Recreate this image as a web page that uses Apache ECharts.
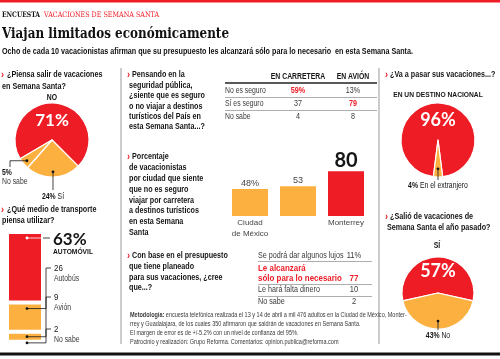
<!DOCTYPE html>
<html><head><meta charset="utf-8">
<script src="https://cdn.jsdelivr.net/npm/echarts@6/dist/echarts.min.js"></script>
<style>html,body{margin:0;padding:0;background:#fff}#c{width:500px;height:359px}</style>
</head><body><div id="c"></div>
<script>
// ---------------- DATA ----------------
const vacLabels = ['NO', 'Sí', 'No sabe'];
const vacValues = [71, 24, 5];
const transportLabels = ['AUTOMÓVIL', 'Autobús', 'Avión', 'No sabe'];
const transportValues = [63, 26, 9, 2];
const safetyCols = ['EN CARRETERA', 'EN AVIÓN'];
const safetyRows = ['No es seguro', 'Sí es seguro', 'No sabe'];
const safetyCarretera = [59, 37, 4];
const safetyAvion = [13, 79, 8];
const cityLabels = ['Ciudad\nde México', 'Guadalajara', 'Monterrey'];
const cityValues = [48, 53, 80];
const budgetLabels = ['Se podrá dar algunos lujos', 'Le alcanzará\nsólo para lo necesario', 'Le hará falta dinero', 'No sabe'];
const budgetValues = [11, 77, 10, 2];
const destLabels = ['EN UN DESTINO NACIONAL', 'En el extranjero'];
const destValues = [96, 4];
const lastLabels = ['SÍ', 'No'];
const lastValues = [57, 43];

// ---------------- STYLE ----------------
const RED = '#ee1c25', ORANGE = '#fbb040', INK = '#151515', GRAY = '#3a3a3a';
const NARROW = '"Liberation Sans",Arial,sans-serif';
const GEO = 'Lato,"Open Sans",sans-serif';
const SLAB = '"DejaVu Serif",serif';
const f = (w, s, fam) => `${w} ${s}px ${fam}`;
const QF = f('bold', 8.6, NARROW);

const mctx = document.createElement('canvas').getContext('2d');
function measure(text, font) { mctx.font = font; return mctx.measureText(text).width; }
const SUB = 'Ocho de cada 10 vacacionistas afirman que su presupuesto les alcanzará sólo para lo necesario  en esta Semana Santa.';
const SUBF = f('bold', 8.6, NARROW);
const SQ = Math.min(1, 411 / measure(SUB, SUBF));

const chart = echarts.init(document.getElementById('c'));

const P1 = {c: [52, 140], r: 37, start: -45 + vacValues[0] * 3.6};
const P3 = {c: [438, 140], r: 37, start: 90 + destValues[0] * 1.8};
const P4 = {c: [438, 293], r: 36, start: 90 + lastValues[0] * 1.8};

function pie(P, values, colors) {
  return {type: 'pie', center: P.c, radius: P.r, startAngle: P.start, clockwise: true, z: 2,
    silent: true, animation: false, label: {show: false}, labelLine: {show: false},
    itemStyle: {borderColor: '#fff', borderWidth: 1.2},
    data: values.map((v, i) => ({value: v, itemStyle: {color: colors[i]}}))};
}
function midPoint(P, values, i, k) {
  const tot = values.reduce((a, b) => a + b, 0);
  let cum = 0; for (let j = 0; j < i; j++) cum += values[j];
  const a = (P.start - 360 * (cum + values[i] / 2) / tot) * Math.PI / 180;
  return [P.c[0] + P.r * k * Math.cos(a), P.c[1] - P.r * k * Math.sin(a)];
}

const transportColors = [RED, ORANGE, ORANGE, ORANGE];
const option = {
  animation: false,
  grid: [
    {left: 7, top: 232, width: 36, height: 112},
    {left: 226, top: 160, width: 144, height: 56}
  ],
  xAxis: [
    {gridIndex: 0, type: 'category', data: [''], show: false},
    {gridIndex: 1, type: 'category', data: cityLabels, axisLine: {show: false}, axisTick: {show: false},
      axisLabel: {color: '#444', fontSize: 8, fontFamily: NARROW, lineHeight: 11, margin: 1}}
  ],
  yAxis: [
    {gridIndex: 0, type: 'value', min: 0, max: 100, inverse: true, show: false},
    {gridIndex: 1, type: 'value', min: 0, max: 100, show: false}
  ],
  series: [
    ...transportValues.map((v, i) => ({type: 'bar', xAxisIndex: 0, yAxisIndex: 0, stack: 'tr',
      barWidth: '100%', silent: true, data: [v],
      itemStyle: {color: transportColors[i], borderColor: '#fff', borderWidth: 2}})),
    {type: 'bar', xAxisIndex: 1, yAxisIndex: 1, barWidth: 36, silent: true,
      data: cityValues.map((v, i) => ({value: v, itemStyle: {color: i === 2 ? RED : ORANGE}})),
      label: {show: true, position: 'top', distance: 1, color: '#444', fontSize: 9, fontFamily: NARROW,
        formatter: p => p.dataIndex === 0 ? p.value + '%' : (p.dataIndex === 2 ? '{big|' + p.value + '}' : '' + p.value),
        rich: {big: {fontSize: 20, fontFamily: GEO, fontWeight: 'bold', color: INK}}}},
    pie(P1, vacValues, [RED, ORANGE, ORANGE]),
    pie(P3, destValues, [RED, ORANGE]),
    pie(P4, lastValues, [RED, ORANGE])
  ]
};
chart.setOption(option);

// ---------------- ANNOTATIONS ----------------
const G = [];
function T(x, y, text, font, fill, align, opts) {
  opts = opts || {};
  const st = {text: text, font: font, fill: fill || INK, align: align || 'left', verticalAlign: 'middle',
    textAlign: align || 'left', textVerticalAlign: 'middle'};
  if (opts.rich) st.rich = opts.rich;
  let sx = opts.sx != null ? opts.sx : (font.indexOf('Liberation') >= 0 ? SQ : 1);
  if (opts.w) sx = opts.w / measure(text, font);
  G.push({type: 'text', x: x, y: y, scaleX: sx, z: 50, silent: true, style: st});
}
function L(pts, stroke, w) {
  G.push({type: 'polyline', z: 40, silent: true, shape: {points: pts}, style: {stroke: stroke || INK, lineWidth: w || 0.8, fill: null}});
}
function dot(p, fill) { G.push({type: 'circle', z: 45, silent: true, shape: {cx: p[0], cy: p[1], r: 1.4}, style: {fill: fill || INK}}); }
const boldRich = {b: {fontWeight: 'bold', fontFamily: NARROW, fontSize: 8.2}};

G.push({type: 'rect', z: 40, silent: true, shape: {x: 0, y: 0, width: 500, height: 2.5}, style: {fill: RED}});
G.push({type: 'rect', z: 40, silent: true, shape: {x: 0, y: 352.5, width: 500, height: 3}, style: {fill: '#111'}});
L([[121, 68], [121, 344]], '#9a9a9a', 1);
L([[379, 68], [379, 344]], '#9a9a9a', 1);

// header
T(2, 15, 'ENCUESTA', f('bold', 7.5, SLAB), '#111', 'left', {w: 38});
T(44, 15, 'VACACIONES DE SEMANA SANTA', f('normal', 7.5, SLAB), RED, 'left', {w: 115});
T(2, 34, 'Viajan limitados económicamente', f('bold', 15.5, SLAB), '#111', 'left', {w: 227});
T(2, 52, SUB, SUBF, '#111', 'left', {w: 411});

// Q1
T(1, 75, '›', f('bold', 11, NARROW), RED);
T(7, 75, '¿Piensa salir de vacaciones', QF);
T(2, 87, 'en Semana Santa?', QF);
T(52, 98, vacLabels[0], f('bold', 8.2, NARROW), INK, 'center');
T(52, 121, vacValues[0] + '%', f('bold', 17, GEO), '#fff', 'center');
const d5 = midPoint(P1, vacValues, 2, 0.88);
L([[10, 167], [10, d5[1]], d5]); dot(d5);
T(2, 173, vacValues[2] + '%', f('bold', 8.2, NARROW));
T(2, 182, vacLabels[2], f('normal', 8.2, NARROW), GRAY);
const d24 = midPoint(P1, vacValues, 1, 0.86);
L([d24, [d24[0], 190]]); dot(d24);
T(d24[0], 197, '{b|' + vacValues[1] + '%} ' + vacLabels[1], f('normal', 8.2, NARROW), INK, 'center', {rich: boldRich});

// Q2 transport
T(1, 210, '›', f('bold', 11, NARROW), RED);
T(7, 210, '¿Qué medio de transporte', QF);
T(2, 221, 'piensa utilizar?', QF);
const labelYs = [240, 268, 297, 329];
let cum = 0;
transportValues.forEach((v, i) => {
  const top = chart.convertToPixel({gridIndex: 0}, [0, cum]);
  const bot = chart.convertToPixel({gridIndex: 0}, [0, cum + v]);
  const cx = top[0] + 2, right = top[0] + 18;
  const dy = top[1] + Math.min(6, (bot[1] - top[1]) / 2);
  if (i === 0) {
    L([[cx, dy], [right, dy]], '#fff', 0.8);
    L([[right, dy], [right + 7, dy]]);
    dot([cx, dy], '#fff');
    T(53, labelYs[0], v + '%', f('bold', 17, GEO), INK, 'left', {sx: 1});
    T(53, 252, transportLabels[0], f('bold', 8, NARROW), INK);
  } else {
    L([[cx, dy], [right + 3, dy], [right + 3, labelYs[i]], [right + 8, labelYs[i]]]);
    dot([cx, dy]);
    T(54, labelYs[i], '' + v, f('normal', 9.5, NARROW), INK);
    T(54, labelYs[i] + 11, transportLabels[i], f('normal', 8.2, NARROW), GRAY);
  }
  cum += v;
});

// Middle Q3
const q3 = ['Pensando en la', 'seguridad pública,', '¿siente que es seguro', 'o no viajar a destinos', 'turísticos del País en', 'esta Semana Santa...?'];
T(127, 75, '›', f('bold', 11, NARROW), RED);
q3.forEach((s, i) => T(i === 0 ? 132 : 129, 75 + i * 10.4, s, QF));
// table 1
T(298, 77, safetyCols[0], f('bold', 8.2, NARROW), INK, 'center');
T(353, 77, safetyCols[1], f('bold', 8.2, NARROW), INK, 'center');
L([[225, 83], [377, 83]], '#222', 1.4);
const rowY1 = [91, 104, 117];
safetyRows.forEach((r, i) => {
  T(225, rowY1[i], r, f('normal', 8.2, NARROW), GRAY);
  const hiC = safetyCarretera[i] === Math.max(...safetyCarretera);
  const hiA = safetyAvion[i] === Math.max(...safetyAvion);
  T(298, rowY1[i], safetyCarretera[i] + (i === 0 ? '%' : ''), f(hiC ? 'bold' : 'normal', 8.6, NARROW), hiC ? RED : GRAY, 'center');
  T(353, rowY1[i], safetyAvion[i] + (i === 0 ? '%' : ''), f(hiA ? 'bold' : 'normal', 8.6, NARROW), hiA ? RED : GRAY, 'center');
});
L([[225, 97.5], [377, 97.5]], '#999', 0.8);
L([[225, 110.5], [377, 110.5]], '#999', 0.8);

// Q4
const q4 = ['Porcentaje', 'de vacacionistas', 'por ciudad que siente', 'que no es seguro', 'viajar por carretera', 'a destinos turísticos', 'en esta Semana', 'Santa'];
T(127, 157, '›', f('bold', 11, NARROW), RED);
q4.forEach((s, i) => T(i === 0 ? 132 : 129, 157 + i * 10.8, s, QF));

// Q5
const q5 = ['Con base en el presupuesto', 'que tiene planeado', 'para sus vacaciones, ¿cree', 'que...?'];
T(127, 256, '›', f('bold', 11, NARROW), RED);
q5.forEach((s, i) => T(i === 0 ? 132 : 129, 256 + i * 10.6, s, QF));
// table 2
const rowY2 = [256, 278, 290, 302];
budgetLabels.forEach((r, i) => {
  const hi = budgetValues[i] === Math.max(...budgetValues);
  const parts = r.split('\n');
  parts.forEach((p, k) => T(258, rowY2[i] - (parts.length - 1 - k) * 10, p, f(hi ? 'bold' : 'normal', hi ? 9.5 : 8.6, NARROW), hi ? RED : GRAY));
  T(354, rowY2[i], budgetValues[i] + (i === 0 ? '%' : ''), f(hi ? 'bold' : 'normal', hi ? 9.5 : 9, NARROW), hi ? RED : GRAY, 'center');
});
[261, 284, 296].forEach(y => L([[258, y + 0.5], [372, y + 0.5]], '#999', 0.8));

// methodology
const MF = f('normal', 6.6, NARROW);
T(130, 315, '{b|Metodología:} encuesta telefónica realizada el 13 y 14 de abril a mil 476 adultos en la Ciudad de México, Monter-', MF, GRAY, 'left', {rich: {b: {fontWeight: 'bold', fontFamily: NARROW, fontSize: 6.6}}});
T(130, 324, 'rrey y Guadalajara, de los cuales 350 afirmaron que saldrán de vacaciones en Semana Santa.', MF, GRAY);
T(130, 333, 'El margen de error es de +/-5.2% con un nivel de confianza del 95%.', MF, GRAY);
T(130, 342, 'Patrocinio y realización: Grupo Reforma. Comentarios: opinion.publica@reforma.com', MF, GRAY);

// Q6
T(385, 75, '›', f('bold', 11, NARROW), RED);
T(390, 75, '¿Va a pasar sus vacaciones...?', QF);
T(438, 95, destLabels[0], f('bold', 8, NARROW), INK, 'center');
T(438, 120, destValues[0] + '%', f('bold', 18, GEO), '#fff', 'center');
const d4 = midPoint(P3, destValues, 1, 0.78);
L([d4, [d4[0], 180]]); dot(d4);
T(438, 186, '{b|' + destValues[1] + '%} ' + destLabels[1], f('normal', 8.2, NARROW), INK, 'center', {rich: boldRich});

// Q7
T(385, 217, '›', f('bold', 11, NARROW), RED);
T(390, 217, '¿Salió de vacaciones de', QF);
T(387, 228, 'Semana Santa el año pasado?', QF);
T(437, 246, lastLabels[0], f('bold', 8.2, NARROW), INK, 'center');
T(438, 271, lastValues[0] + '%', f('bold', 18, GEO), '#fff', 'center');
const d43 = midPoint(P4, lastValues, 1, 0.78);
L([d43, [d43[0], 330]]); dot(d43);
T(438, 336, '{b|' + lastValues[1] + '%} ' + lastLabels[1], f('normal', 8.2, NARROW), INK, 'center', {rich: boldRich});

chart.setOption({graphic: {elements: G}});
</script></body></html>
